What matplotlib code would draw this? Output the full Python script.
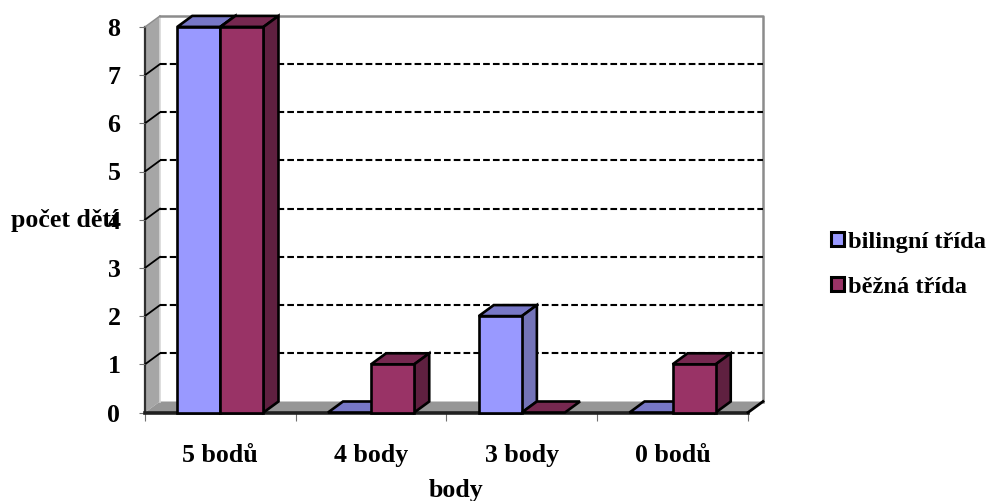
import matplotlib
matplotlib.use('Agg')
import matplotlib.pyplot as plt
from matplotlib.patches import Patch, Polygon

categories = ['5 bodů', '4 body', '3 body', '0 bodů']
bilingual = [8, 0, 2, 0]
regular = [8, 1, 0, 1]
series_names = ['bilingní třída', 'běžná třída']
y_values = [0, 1, 2, 3, 4, 5, 6, 7, 8]

W, H = 987, 501
plt.rcParams['font.family'] = ['Liberation Serif', 'DejaVu Serif']
plt.rcParams['font.weight'] = 'bold'
FS = 18.6
FS_LEGEND = 17.6

# pixel layout of the plot box (front corner and size of one unit)
x0, y0 = 145, 412.5
cat_px, unit_px = 150.75, 48.2
depth_px_x, depth_px_y = 15, 11
dx = depth_px_x / cat_px
dy = depth_px_y / unit_px
n = len(categories)
top = max(y_values)
bar_w = 0.286

fig = plt.figure(figsize=(W / 100, H / 100), dpi=100)
ax_w = cat_px * n + depth_px_x
ax_h = unit_px * top + depth_px_y
ax = fig.add_axes([x0 / W, 1 - y0 / H, ax_w / W, ax_h / H])
ax.set_xlim(0, n + dx)
ax.set_ylim(0, top + dy)
for s in ax.spines.values():
    s.set_visible(False)


def poly(points, face, edge='none', lw=0, z=2):
    ax.add_patch(Polygon(points, closed=True, facecolor=face, edgecolor=edge,
                         linewidth=lw, zorder=z, clip_on=False, joinstyle='miter'))


# walls and floor
poly([(0, 0), (dx, dy), (dx, top + dy), (0, top)], '#a6a6a6', z=1)
poly([(0, 0), (n, 0), (n + dx, dy), (dx, dy)], '#969696', z=1)
ax.plot([dx, dx], [dy, top + dy], color='#d8d8d8', lw=1.2, zorder=1.2)
ax.plot([dx, n + dx, n + dx], [top + dy, top + dy, dy], color='#8c8c8c', lw=1.8, zorder=1.2, clip_on=False)
ax.plot([0, 0], [0, top], color='#303030', lw=1.6, zorder=1.4, clip_on=False)
ax.plot([0, dx], [top, top + dy], color='#8c8c8c', lw=1, zorder=1.4, clip_on=False)

# dashed grid on the back wall, continuing across the side wall
for v in y_values[1:-1]:
    ax.plot([dx, n + dx], [v + dy, v + dy], color='black', lw=1.5,
            dashes=(3.2, 1.5), zorder=1.5, clip_on=False)
    ax.plot([0, dx], [v, v + dy], color='black', lw=1.3, zorder=1.5, clip_on=False)

# floor edges
ax.plot([0, n], [0, 0], color='#202020', lw=2.6, zorder=1.6, clip_on=False)
ax.plot([n, n + dx], [0, dy], color='black', lw=2, zorder=1.6, clip_on=False)


def bar3d(left, value, front, top_col, side_col, z):
    right = left + bar_w
    edge = dict(edge='black', lw=1.9, z=z)
    poly([(left, value), (right, value), (right + dx, value + dy), (left + dx, value + dy)], top_col, **edge)
    if value > 0:
        poly([(right, 0), (right + dx, dy), (right + dx, value + dy), (right, value)], side_col, **edge)
        poly([(left, 0), (right, 0), (right, value), (left, value)], front, **edge)


for i in range(n):
    c = i + 0.5
    bar3d(c - bar_w, bilingual[i], '#9999ff', '#7777c6', '#7373b8', 3 + i)
    bar3d(c, regular[i], '#993366', '#762850', '#5f2040', 3.5 + i)

# axes ticks and labels
ax.set_yticks(y_values)
ax.set_yticklabels([str(v) for v in y_values], fontsize=FS, fontweight='bold')
ax.tick_params(axis='y', length=4.2, width=0.8, color='#707070', pad=13.5)
ax.set_xticks([i for i in range(n + 1)])
ax.set_xticklabels([])
ax.tick_params(axis='x', length=6, width=0.8, color='#707070')
ax.set_xticks([i + 0.5 for i in range(n)], minor=True)
ax.set_xticklabels(categories, minor=True, fontsize=FS, fontweight='bold')
ax.tick_params(axis='x', which='minor', length=0, pad=23)
ax.patch.set_alpha(0)

fig.text(456 / W, 1 - 490 / H, 'body', fontsize=FS, fontweight='bold', ha='center', va='center')
fig.text(11 / W, 1 - 221 / H, 'počet dětí', fontsize=FS, fontweight='bold', ha='left', va='center')

handles = [Patch(facecolor='#9999ff', edgecolor='black', linewidth=2.2),
           Patch(facecolor='#993366', edgecolor='black', linewidth=2.2)]
fig.legend(handles, series_names, loc='upper left', bbox_to_anchor=(831 / W, 1 - 232 / H),
           frameon=False, fontsize=FS_LEGEND, handlelength=0.52, handleheight=0.52,
           handletextpad=0.17, labelspacing=0.98, borderpad=0, borderaxespad=0)

fig.savefig('out.png', dpi=100)
